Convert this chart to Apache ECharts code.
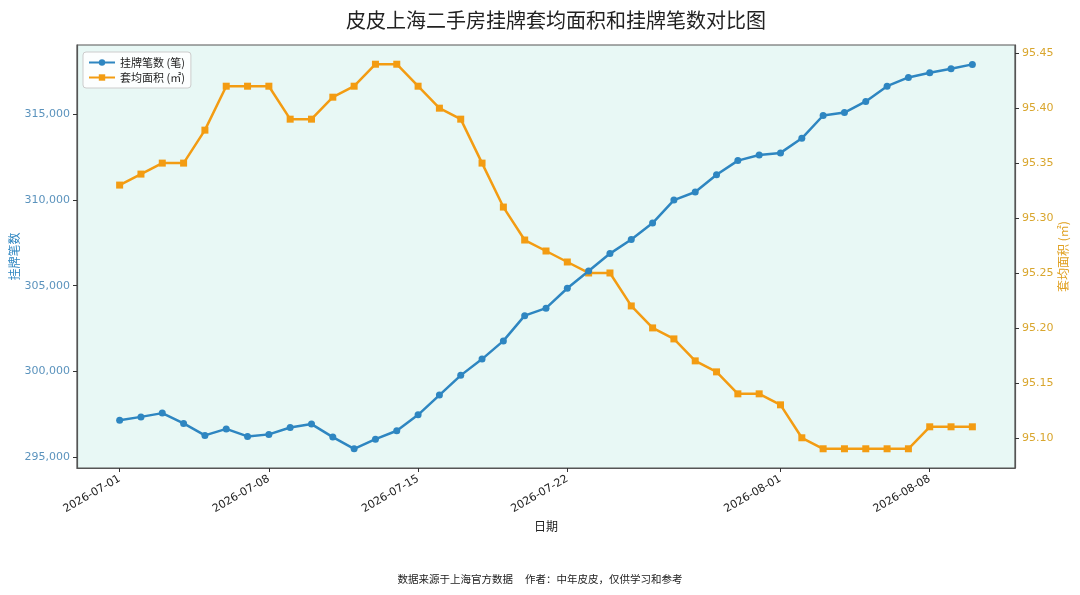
<!DOCTYPE html>
<html>
<head>
<meta charset="utf-8">
<script src="https://cdn.jsdelivr.net/npm/echarts@6/dist/echarts.min.js"></script>
<style>
html,body{margin:0;padding:0;background:#fff;}
#chart{width:1080px;height:595px;}
</style>
</head>
<body>
<div id="chart"></div>
<script>
const dates = [
  '2026-07-01','2026-07-02','2026-07-03','2026-07-04','2026-07-05','2026-07-06','2026-07-07',
  '2026-07-08','2026-07-09','2026-07-10','2026-07-11','2026-07-12','2026-07-13','2026-07-14',
  '2026-07-15','2026-07-16','2026-07-17','2026-07-18','2026-07-19','2026-07-20','2026-07-21',
  '2026-07-22','2026-07-23','2026-07-24','2026-07-25','2026-07-26','2026-07-27','2026-07-28',
  '2026-07-29','2026-07-30','2026-07-31','2026-08-01','2026-08-02','2026-08-03','2026-08-04',
  '2026-08-05','2026-08-06','2026-08-07','2026-08-08','2026-08-09','2026-08-10'
];
const listingCounts = [
  297160, 297350, 297570, 296970, 296270, 296650, 296210,
  296330, 296730, 296930, 296170, 295490, 296050, 296540,
  297470, 298620, 299770, 300720, 301780, 303250, 303690,
  304850, 305860, 306870, 307690, 308650, 309990, 310460,
  311470, 312290, 312620, 312740, 313590, 314920, 315090,
  315740, 316630, 317140, 317410, 317640, 317900
];
const avgArea = [
  95.33, 95.34, 95.35, 95.35, 95.38, 95.42, 95.42,
  95.42, 95.39, 95.39, 95.41, 95.42, 95.44, 95.44,
  95.42, 95.40, 95.39, 95.35, 95.31, 95.28, 95.27,
  95.26, 95.25, 95.25, 95.22, 95.20, 95.19, 95.17,
  95.16, 95.14, 95.14, 95.13, 95.10, 95.09, 95.09,
  95.09, 95.09, 95.09, 95.11, 95.11, 95.11
];
const dateTicks = ['2026-07-01','2026-07-08','2026-07-15','2026-07-22','2026-08-01','2026-08-08'];
const countTicks = [295000, 300000, 305000, 310000, 315000];
const areaTicks = [95.10, 95.15, 95.20, 95.25, 95.30, 95.35, 95.40, 95.45];

const seriesNames = ['挂牌笔数 (笔)', '套均面积 (㎡)'];
const titleText = '皮皮上海二手房挂牌套均面积和挂牌笔数对比图';
const footerText = '数据来源于上海官方数据     作者：中年皮皮，仅供学习和参考';

function toTs(s) {
  const p = s.split('-').map(Number);
  return Date.UTC(p[0], p[1] - 1, p[2]);
}
function pad(n) { return (n < 10 ? '0' : '') + n; }
function fmtDate(v) {
  const d = new Date(v);
  return d.getUTCFullYear() + '-' + pad(d.getUTCMonth() + 1) + '-' + pad(d.getUTCDate());
}

const BLUE = '#2e86c1';
const ORANGE = '#f39c12';
const CJK = '"Noto Sans CJK SC", "DejaVu Sans", sans-serif';
const NUM = '"DejaVu Sans", sans-serif';

const chart = echarts.init(document.getElementById('chart'), null, { renderer: 'canvas' });

const option = {
  backgroundColor: '#ffffff',
  animation: false,
  title: {
    text: titleText,
    left: 341,
    top: 5,
    textStyle: { fontFamily: CJK, fontSize: 20, fontWeight: 'normal', color: '#222' }
  },
  legend: {
    orient: 'vertical',
    left: 83,
    top: 52,
    itemGap: 4,
    itemWidth: 26,
    itemHeight: 8,
    padding: [5, 6, 5, 5],
    backgroundColor: 'rgba(255,255,255,0.85)',
    borderColor: '#cccccc',
    borderWidth: 1,
    borderRadius: 3,
    textStyle: { fontFamily: CJK, fontSize: 11, color: '#222' },
    data: seriesNames
  },
  grid: {
    left: 77,
    right: 65,
    top: 45,
    bottom: 127,
    show: true,
    backgroundColor: '#e8f8f5',
    borderColor: '#555',
    borderWidth: 1.2,
    containLabel: false,
    outerBoundsMode: 'none'
  },
  graphic: [{
    type: 'text',
    left: 'center',
    top: 574,
    style: { text: footerText, fontFamily: CJK, fontSize: 10.5, fill: '#222' }
  }],
  xAxis: {
    type: 'value',
    min: toTs('2026-06-29'),
    max: toTs('2026-08-12'),
    name: '日期',
    nameLocation: 'middle',
    nameGap: 52,
    nameMoveOverlap: false,
    nameTextStyle: { fontFamily: CJK, fontSize: 12, color: '#222' },
    axisLine: { show: true, lineStyle: { color: '#555', width: 1.2 } },
    axisTick: { show: true, length: 4, lineStyle: { color: '#333' }, customValues: dateTicks.map(toTs) },
    axisLabel: {
      rotate: 30,
      margin: 10,
      fontFamily: NUM,
      fontSize: 11,
      color: '#222',
      customValues: dateTicks.map(toTs),
      formatter: function (v) { return fmtDate(v); }
    },
    splitLine: { show: false }
  },
  yAxis: [{
    type: 'value',
    position: 'left',
    min: 294370,
    max: 319030,
    name: '挂牌笔数',
    nameLocation: 'middle',
    nameRotate: 90,
    nameGap: 57,
    nameMoveOverlap: false,
    nameTextStyle: { fontFamily: CJK, fontSize: 12, color: BLUE },
    axisLine: { show: true, lineStyle: { color: '#555', width: 1.2 } },
    axisTick: { show: true, length: 4, lineStyle: { color: '#333' }, customValues: countTicks },
    axisLabel: {
      margin: 7,
      fontFamily: NUM,
      fontSize: 11,
      color: '#5b93bd',
      customValues: countTicks,
      formatter: function (v) { return Math.round(v).toLocaleString('en-US'); }
    },
    splitLine: { show: false }
  }, {
    type: 'value',
    position: 'right',
    min: 95.0725,
    max: 95.4575,
    name: '套均面积 (㎡)',
    nameLocation: 'middle',
    nameRotate: 90,
    nameGap: 42,
    nameMoveOverlap: false,
    nameTextStyle: { fontFamily: CJK, fontSize: 12, color: '#e0a020' },
    axisLine: { show: true, lineStyle: { color: '#555', width: 1.2 } },
    axisTick: { show: true, length: 4, lineStyle: { color: '#333' }, customValues: areaTicks },
    axisLabel: {
      margin: 7,
      fontFamily: NUM,
      fontSize: 11,
      color: '#d9a62e',
      customValues: areaTicks,
      formatter: function (v) { return Number(v).toFixed(2); }
    },
    splitLine: { show: false }
  }],
  series: [{
    name: seriesNames[0],
    type: 'line',
    yAxisIndex: 0,
    data: dates.map(function (d, i) { return [toTs(d), listingCounts[i]]; }),
    symbol: 'circle',
    symbolSize: 7,
    showSymbol: true,
    lineStyle: { color: BLUE, width: 2.5 },
    itemStyle: { color: BLUE },
    z: 3
  }, {
    name: seriesNames[1],
    type: 'line',
    yAxisIndex: 1,
    data: dates.map(function (d, i) { return [toTs(d), avgArea[i]]; }),
    symbol: 'rect',
    symbolSize: 7,
    showSymbol: true,
    lineStyle: { color: ORANGE, width: 2.5 },
    itemStyle: { color: ORANGE },
    z: 2
  }]
};
chart.setOption(option);
</script>
</body>
</html>
